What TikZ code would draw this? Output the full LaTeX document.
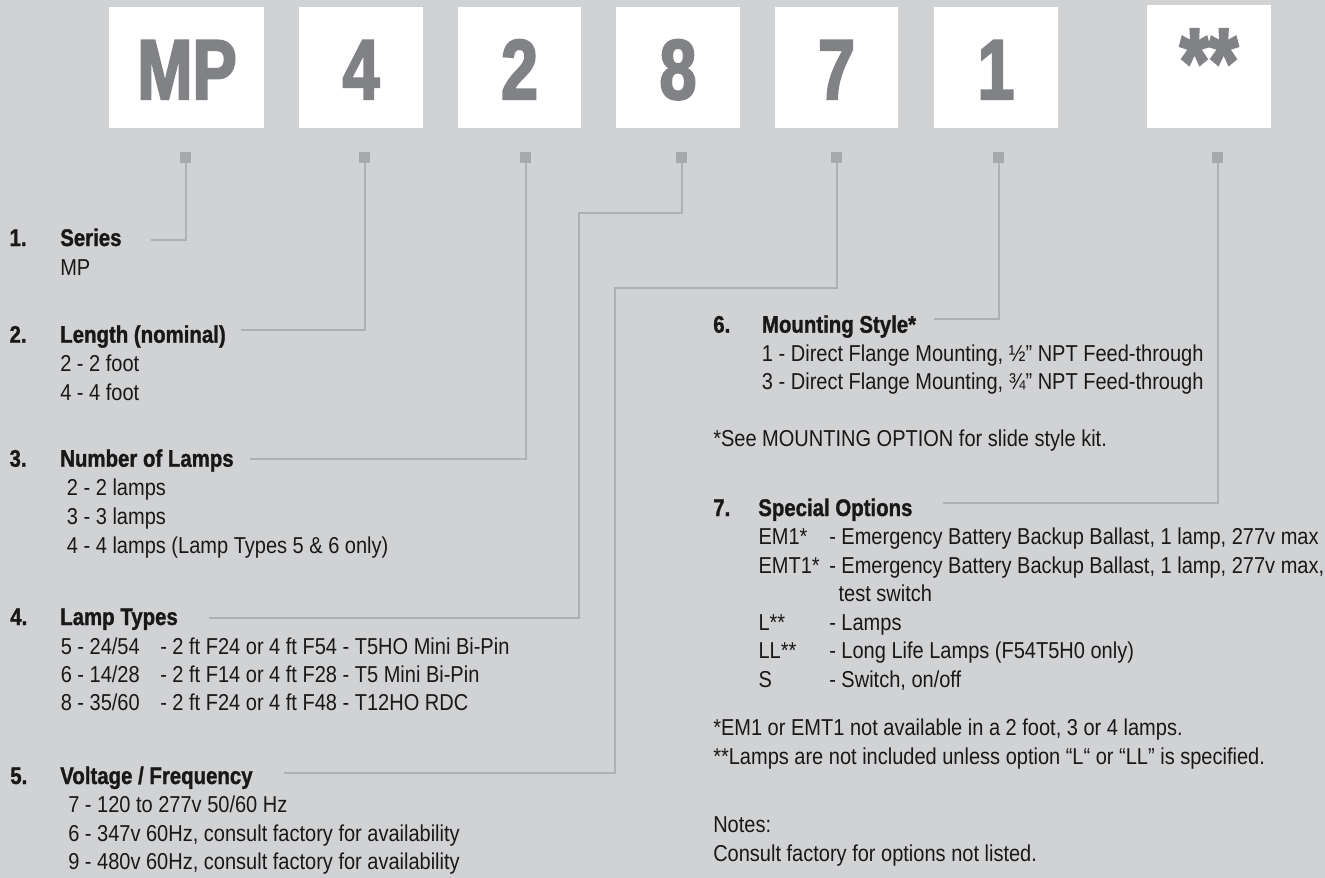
\documentclass[tikz,border=0pt]{standalone}
\usepackage{fontspec}
\setmainfont{Liberation Sans}
\newfontfamily\bodyf{Liberation Sans}[FakeStretch=0.87]
\newfontfamily\headf{Liberation Sans}[FakeStretch=0.85,FakeBold=1.2]
\newfontfamily\bigf{Liberation Sans}[FakeStretch=0.78,FakeBold=2.5]
\definecolor{bg}{HTML}{D1D2D4}
\definecolor{boxgray}{HTML}{808285}
\definecolor{markgray}{HTML}{A7A9AC}
\definecolor{linegray}{HTML}{AEB0B3}
\definecolor{ink}{HTML}{1A1718}
\tikzset{
  body/.style={anchor=base west, inner sep=0pt, font=\bodyf\fontsize{17.25}{20}\selectfont, text=ink},
  head/.style={anchor=base west, inner sep=0pt, font=\headf\bfseries\fontsize{18}{21}\selectfont, text=ink},
  codebox/.style={fill=white, draw=none, inner sep=0pt, minimum height=90.75pt},
  big/.style={anchor=base, inner sep=0pt, font=\bigf\bfseries\fontsize{63.75}{70}\selectfont, text=boxgray},
  marker/.style={fill=markgray, draw=none, inner sep=0pt, minimum size=8.25pt},
  conn/.style={draw=linegray, line width=1.5pt},
}
\begin{document}
\begin{tikzpicture}[x=0.75pt,y=-0.75pt]
\fill[bg] (0,0) rectangle (1325,878);
\useasboundingbox (0,0) rectangle (1325,878);

% code boxes
\node[codebox, minimum width=115.9pt] (b1) at (186.75,67.5) {};
\node[codebox, minimum width=93pt] (b2) at (361,67.5) {};
\node[codebox, minimum width=92.25pt] (b3) at (519.5,67.5) {};
\node[codebox, minimum width=93.2pt] (b4) at (677.9,67.5) {};
\node[codebox, minimum width=92.25pt] (b5) at (836.5,67.5) {};
\node[codebox, minimum width=93pt] (b6) at (996,67.5) {};
\node[codebox, minimum width=93pt, minimum height=92.25pt] (b7) at (1209,66.5) {};

\node[big] (l1) at (187,99) {MP};
\node[big] (l2) at (361,99) {4};
\node[big] (l3) at (519.5,99) {2};
\node[big] (l4) at (678,99) {8};
\node[big] (l5) at (836.5,99) {7};
\node[big] (l6) at (996,99) {1};
\node[big, font=\bigf\bfseries\fontsize{72}{80}\selectfont] (l7) at (1209,95) {**};

% markers
\node[marker] (sq1) at (185.6,157.5) {};
\node[marker] (sq2) at (364.5,157.5) {};
\node[marker] (sq3) at (525.5,157.5) {};
\node[marker] (sq4) at (681.5,157.5) {};
\node[marker] (sq5) at (836.5,157.5) {};
\node[marker] (sq6) at (998.5,157.5) {};
\node[marker] (sq7) at (1217.5,157.5) {};

% connector ends and corners
\coordinate (c1) at (150.7,240);
\coordinate (c2) at (240.7,330);
\coordinate (c3) at (250,459);
\coordinate (k4) at (578.5,213);
\coordinate (c4) at (209,618.3);
\coordinate (k5) at (615.3,288.3);
\coordinate (c5) at (284,773.3);
\coordinate (c6) at (934,319);
\coordinate (c7) at (942.7,503.3);

\draw[conn] (sq1.south) |- (c1);
\draw[conn] (sq2.south) |- (c2);
\draw[conn] (sq3.south) |- (c3);
\draw[conn] (sq4.south) |- (k4) |- (c4);
\draw[conn] (sq5.south) |- (k5) |- (c5);
\draw[conn] (sq6.south) |- (c6);
\draw[conn] (sq7.south) |- (c7);

% 1
\node[head] (n1) at (9.3,246) {1.};
\node[head] (t1) at (60,246) {Series};
\node[body] (s1a) at (60,275) {MP};
% 2
\node[head] (n2) at (9.3,342.7) {2.};
\node[head] (t2) at (60,342.7) {Length (nominal)};
\node[body] (s2a) at (60,371) {2 - 2 foot};
\node[body] (s2b) at (60,400) {4 - 4 foot};
% 3
\node[head] (n3) at (9.3,466.7) {3.};
\node[head] (t3) at (60,466.7) {Number of Lamps};
\node[body] (s3a) at (66.7,495.7) {2 - 2 lamps};
\node[body] (s3b) at (66.7,524.3) {3 - 3 lamps};
\node[body] (s3c) at (66.7,553) {4 - 4 lamps (Lamp Types 5 \& 6 only)};
% 4
\node[head] (n4) at (10,625) {4.};
\node[head] (t4) at (60,625) {Lamp Types};
\node[body] (s4a) at (60.5,654) {5 - 24/54};
\node[body] (s4ad) at (160,654) {- 2 ft F24 or 4 ft F54 - T5HO Mini Bi-Pin};
\node[body] (s4b) at (60.5,682.3) {6 - 14/28};
\node[body] (s4bd) at (160,682.3) {- 2 ft F14 or 4 ft F28 - T5 Mini Bi-Pin};
\node[body] (s4c) at (60.5,710.7) {8 - 35/60};
\node[body] (s4cd) at (160,710.7) {- 2 ft F24 or 4 ft F48 - T12HO RDC};
% 5
\node[head] (n5) at (10,784) {5.};
\node[head] (t5) at (60,784) {Voltage / Frequency};
\node[body] (s5a) at (68,812.3) {7 - 120 to 277v 50/60 Hz};
\node[body] (s5b) at (68,841) {6 - 347v 60Hz, consult factory for availability};
\node[body] (s5c) at (68,869.3) {9 - 480v 60Hz, consult factory for availability};
% 6
\node[head] (n6) at (713,332.7) {6.};
\node[head] (t6) at (761.7,332.7) {Mounting Style*};
\node[body] (s6a) at (761.7,361.7) {1 - Direct Flange Mounting, ½” NPT Feed-through};
\node[body] (s6b) at (761.7,389.3) {3 - Direct Flange Mounting, ¾” NPT Feed-through};
\node[body] (s6n) at (713,446.7) {*See MOUNTING OPTION for slide style kit.};
% 7
\node[head] (n7) at (713,516) {7.};
\node[head] (t7) at (758,516) {Special Options};
\node[body] (o1) at (758.3,544.3) {EM1*};
\node[body] (o1d) at (829,544.3) {- Emergency Battery Backup Ballast, 1 lamp, 277v max};
\node[body] (o2) at (758.3,573) {EMT1*};
\node[body] (o2d) at (829,573) {- Emergency Battery Backup Ballast, 1 lamp, 277v max,};
\node[body] (o2e) at (838.3,601) {test switch};
\node[body] (o3) at (758.3,630) {L**};
\node[body] (o3d) at (829,630) {- Lamps};
\node[body] (o4) at (758.3,658.3) {LL**};
\node[body] (o4d) at (829,658.3) {- Long Life Lamps (F54T5H0 only)};
\node[body] (o5) at (758.3,687.3) {S};
\node[body] (o5d) at (829,687.3) {- Switch, on/off};
\node[body] (f1) at (713,735.7) {*EM1 or EMT1 not available in a 2 foot, 3 or 4 lamps.};
\node[body] (f2) at (713,764.3) {**Lamps are not included unless option “L“ or “LL” is specified.};
\node[body] (f3) at (713,832.7) {Notes:};
\node[body] (f4) at (713,861) {Consult factory for options not listed.};
\end{tikzpicture}
\end{document}
